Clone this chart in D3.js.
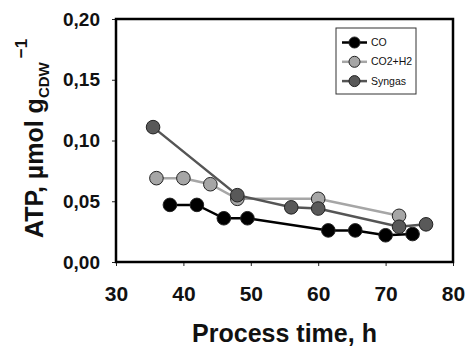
<!DOCTYPE html>
<html>
<head>
<meta charset="utf-8">
<script src="https://cdn.jsdelivr.net/npm/d3@7"></script>
<style>
  html, body { margin: 0; padding: 0; background: #fff; }
  svg { display: block; font-family: 'Liberation Sans', Arial, sans-serif; }
</style>
</head>
<body>
<div id="chart"></div>
<script>
// Data
const seriesNames = ['CO', 'CO2+H2', 'Syngas'];
const coTime = [38, 42, 46, 49.5, 61.5, 65.5, 70, 74];
const coATP = [0.047, 0.047, 0.036, 0.036, 0.026, 0.026, 0.022, 0.023];
const co2Time = [36, 40, 44, 48, 60, 72];
const co2ATP = [0.069, 0.069, 0.064, 0.052, 0.052, 0.038];
const syngasTime = [35.5, 48, 56, 60, 72, 76];
const syngasATP = [0.111, 0.055, 0.045, 0.044, 0.029, 0.031];
const xTicks = [30, 40, 50, 60, 70, 80];
const yTicks = [0, 0.05, 0.10, 0.15, 0.20];

const W = 465, H = 351;
const margin = { top: 19, right: 12, bottom: 89, left: 116 };
const width = W - margin.left - margin.right;
const height = H - margin.top - margin.bottom;

const series = [
  { name: seriesNames[0], time: coTime, atp: coATP, line: '#000', fill: '#000' },
  { name: seriesNames[1], time: co2Time, atp: co2ATP, line: '#a6a6a6', fill: '#a6a6a6' },
  { name: seriesNames[2], time: syngasTime, atp: syngasATP, line: '#555', fill: '#595959' }
];

const svg = d3.select('#chart').append('svg')
  .attr('width', W)
  .attr('height', H);

const g = svg.append('g')
  .attr('transform', `translate(${margin.left},${margin.top})`);

const x = d3.scaleLinear().domain([30, 80]).range([0, width]);
const y = d3.scaleLinear().domain([0, 0.20]).range([height, 0]);

const fmt = d => d3.format('.2f')(d).replace('.', ',');

// X axis
const xAxis = g.append('g')
  .attr('transform', `translate(0,${height})`)
  .call(d3.axisBottom(x).tickValues(xTicks).tickSize(4).tickPadding(20));
xAxis.select('.domain').remove();
xAxis.selectAll('.tick line').attr('stroke', '#222').attr('stroke-width', 1);
xAxis.selectAll('.tick text')
  .style('font-size', '21px')
  .style('font-weight', 'bold')
  .style('fill', '#111');

// Y axis
const yAxis = g.append('g')
  .call(d3.axisLeft(y).tickValues(yTicks).tickFormat(fmt).tickSize(4).tickPadding(12));
yAxis.select('.domain').remove();
yAxis.selectAll('.tick line').attr('stroke', '#222').attr('stroke-width', 1);
yAxis.selectAll('.tick text')
  .style('font-size', '19px')
  .style('font-weight', 'bold')
  .style('fill', '#111');

// Plot frame
g.append('rect')
  .attr('width', width)
  .attr('height', height)
  .attr('fill', 'none')
  .attr('stroke', '#000')
  .attr('stroke-width', 2.5);

// Axis titles
g.append('text')
  .attr('x', width / 2)
  .attr('y', height + 80)
  .attr('text-anchor', 'middle')
  .style('font-size', '25px')
  .style('font-weight', 'bold')
  .style('fill', '#111')
  .text('Process time, h');

const yTitle = svg.append('text')
  .attr('transform', 'translate(43,238) rotate(-90)')
  .style('font-size', '25px')
  .style('font-weight', 'bold')
  .style('fill', '#111');
yTitle.append('tspan').text('ATP, µmol g');
yTitle.append('tspan').attr('dy', 6).style('font-size', '15px').text('CDW');
yTitle.append('tspan').attr('dx', 4).attr('dy', -22).style('font-size', '17px').text('−1');

// Lines and markers
const line = d3.line()
  .x(d => x(d[0]))
  .y(d => y(d[1]));

series.forEach(s => {
  const pts = s.time.map((t, i) => [t, s.atp[i]]);
  g.append('path')
    .datum(pts)
    .attr('d', line)
    .attr('fill', 'none')
    .attr('stroke', s.line)
    .attr('stroke-width', 2.5);
  g.selectAll(null)
    .data(pts)
    .enter().append('circle')
    .attr('cx', d => x(d[0]))
    .attr('cy', d => y(d[1]))
    .attr('r', 6.8)
    .attr('fill', s.fill)
    .attr('stroke', '#222')
    .attr('stroke-width', 1);
});

// Legend
const legend = svg.append('g').attr('transform', 'translate(336,28)');
legend.append('rect')
  .attr('width', 80)
  .attr('height', 66)
  .attr('fill', '#fff')
  .attr('stroke', '#333')
  .attr('stroke-width', 1);

const items = legend.selectAll('.item')
  .data(series)
  .enter().append('g')
  .attr('transform', (d, i) => `translate(0,${14.5 + i * 19.3})`);
items.append('line')
  .attr('x1', 6).attr('x2', 31)
  .attr('stroke', d => d.line)
  .attr('stroke-width', 2.5);
items.append('circle')
  .attr('cx', 18.5)
  .attr('r', 5.5)
  .attr('fill', d => d.fill)
  .attr('stroke', '#222')
  .attr('stroke-width', 1);
items.append('text')
  .attr('x', 35)
  .attr('dy', '0.35em')
  .style('font-size', '10.5px')
  .style('fill', '#111')
  .text(d => d.name);
</script>
</body>
</html>
